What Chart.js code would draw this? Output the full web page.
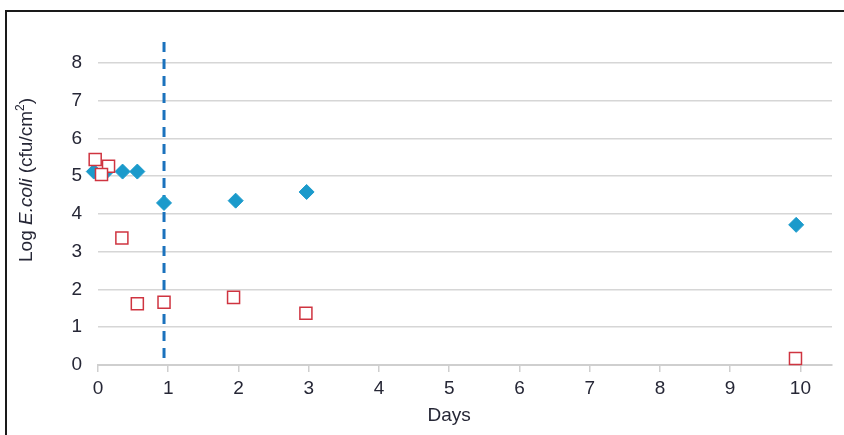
<!DOCTYPE html>
<html>
<head>
<meta charset="utf-8">
<script src="https://cdn.jsdelivr.net/npm/chart.js@4.4.1/dist/chart.umd.min.js"></script>
<style>
  body { margin: 0; background: #fff; }
  #wrap { position: relative; width: 844px; height: 435px; overflow: hidden; }
  #frame { position: absolute; left: 5px; top: 10px; width: 900px; height: 500px;
    border-left: 2px solid #1a1a1a; border-top: 2px solid #1a1a1a; }
  #myChart { position: absolute; left: 0; top: 0; }
</style>
</head>
<body>
<div id="wrap">
  <div id="frame"></div>
  <canvas id="myChart" width="844" height="435"></canvas>
</div>
<script>
'use strict';

//data
let blueDays = [-0.06, 0.12, 0.35, 0.56, 0.94, 1.96, 2.97, 9.94];
let blueLog = [5.12, 5.12, 5.12, 5.12, 4.29, 4.35, 4.58, 3.71];
let redDays = [-0.04, 0.15, 0.05, 0.34, 0.56, 0.94, 1.93, 2.96, 9.93];
let redLog = [5.44, 5.26, 5.04, 3.36, 1.62, 1.66, 1.79, 1.37, 0.17];
let markerDay = 0.94;
let xTicks = [0, 1, 2, 3, 4, 5, 6, 7, 8, 9, 10];
let yTicks = [0, 1, 2, 3, 4, 5, 6, 7, 8];

let fontFamily = "'Liberation Sans Narrow', 'Liberation Sans', Arial, sans-serif";
let textColor = '#262736';

function toPoints(xs, ys){
  let pts = [];
  for(let i = 0; i < xs.length; i++){
    pts.push({x: xs[i], y: ys[i]});
  }
  return pts;
}

//axis titles drawn by hand so E.coli can be italic
let titlePlugin = {
  id: 'axisTitles',
  afterDraw(chart){
    const ctx = chart.ctx;
    const xScale = chart.scales.x;
    ctx.save();
    ctx.fillStyle = textColor;
    ctx.textBaseline = 'middle';

    ctx.font = `19px ${fontFamily}`;
    ctx.textAlign = 'center';
    ctx.fillText('Days', xScale.getPixelForValue(5), 416);

    let parts = [
      {t: 'Log ', f: `19px ${fontFamily}`, dy: 0},
      {t: 'E.coli', f: `italic 19px ${fontFamily}`, dy: 0},
      {t: ' (cfu/cm', f: `19px ${fontFamily}`, dy: 0},
      {t: '2', f: `12px ${fontFamily}`, dy: -6},
      {t: ')', f: `19px ${fontFamily}`, dy: 0}
    ];
    let total = 0;
    for(let p of parts){
      ctx.font = p.f;
      p.w = ctx.measureText(p.t).width;
      total += p.w;
    }
    ctx.translate(27, 180);
    ctx.rotate(-Math.PI / 2);
    ctx.textAlign = 'left';
    let pos = -total / 2;
    for(let p of parts){
      ctx.font = p.f;
      ctx.fillText(p.t, pos, p.dy);
      pos += p.w;
    }
    ctx.restore();
  }
};

const ctx = document.getElementById('myChart');
new Chart(ctx, {
  type: 'scatter',
  data: {
    datasets: [{
      type: 'line',
      data: [{x: markerDay, y: 8.55}, {x: markerDay, y: 0}],
      borderColor: '#1b72bd',
      borderWidth: 3,
      borderDash: [10, 7],
      pointRadius: 0,
      order: 3
    },
    {
      data: toPoints(blueDays, blueLog),
      pointStyle: 'rectRot',
      pointRadius: 7.5,
      backgroundColor: '#1b9acb',
      borderColor: '#1b9acb',
      borderWidth: 1,
      clip: false,
      order: 2
    },
    {
      data: toPoints(redDays, redLog),
      pointStyle: 'rect',
      pointRadius: 8.5,
      backgroundColor: '#ffffff',
      borderColor: '#cf3440',
      borderWidth: 1.5,
      clip: false,
      order: 1
    }]
  },
  options: {
    responsive: false,
    animation: false,
    events: [],
    layout: {
      padding: {top: 42, right: 12, left: 0, bottom: 0}
    },
    plugins: {
      legend: {display: false},
      tooltip: {enabled: false}
    },
    scales: {
      x: {
        type: 'linear',
        min: 0,
        max: 10.45,
        afterBuildTicks(scale){
          scale.ticks = xTicks.map(v => ({value: v}));
        },
        afterFit(scale){
          scale.height = 70;
        },
        grid: {
          drawOnChartArea: false,
          drawTicks: true,
          tickLength: 7,
          color: '#cfcfcf',
          lineWidth: 1.5
        },
        border: {display: true, color: '#cfcfcf', width: 2},
        ticks: {
          color: textColor,
          padding: 5,
          maxRotation: 0,
          font: {family: fontFamily, size: 19}
        }
      },
      y: {
        type: 'linear',
        min: 0,
        max: 8.55,
        afterBuildTicks(scale){
          scale.ticks = yTicks.map(v => ({value: v}));
        },
        afterFit(scale){
          scale.width = 98;
        },
        grid: {
          drawTicks: false,
          color: '#d6d6d6',
          lineWidth: 1.5
        },
        border: {display: false},
        ticks: {
          color: textColor,
          padding: 16,
          font: {family: fontFamily, size: 19}
        }
      }
    }
  },
  plugins: [titlePlugin]
});
</script>
</body>
</html>
